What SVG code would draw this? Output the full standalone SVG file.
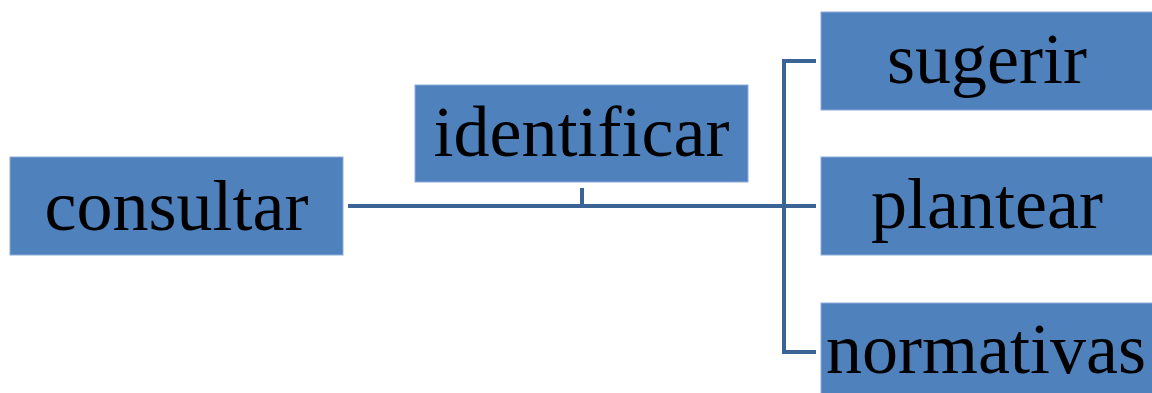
<svg xmlns="http://www.w3.org/2000/svg" width="1152" height="393" viewBox="0 0 1152 393">
<style>
.box{fill:#4F81BD;stroke:#8EAADB;stroke-width:1}
.lbl{font-family:"Liberation Serif","Times New Roman",serif;font-size:72px;fill:#000;text-anchor:middle}
.con{fill:none;stroke:#3B6496;stroke-width:4}
</style>
<rect width="1152" height="393" fill="#fff"/>
<g id="connectors">
<path class="con" d="M348 206 H816"/>
<path class="con" d="M582 188 V206"/>
<path class="con" d="M816 61 H784 V352 H816"/>
</g>
<g id="consultar"><rect class="box" x="10" y="157" width="333" height="98"/><text class="lbl" x="176.5" y="230">consultar</text></g>
<g id="identificar"><rect class="box" x="415" y="85" width="333" height="97"/><text class="lbl" x="581.5" y="156">identificar</text></g>
<g id="sugerir"><rect class="box" x="821" y="12" width="332" height="98"/><text class="lbl" x="987" y="83">sugerir</text></g>
<g id="plantear"><rect class="box" x="821" y="157" width="332" height="98"/><text class="lbl" x="987" y="228">plantear</text></g>
<g id="normativas"><rect class="box" x="821" y="303" width="332" height="91"/><text class="lbl" x="986" y="373">normativas</text></g>
</svg>
